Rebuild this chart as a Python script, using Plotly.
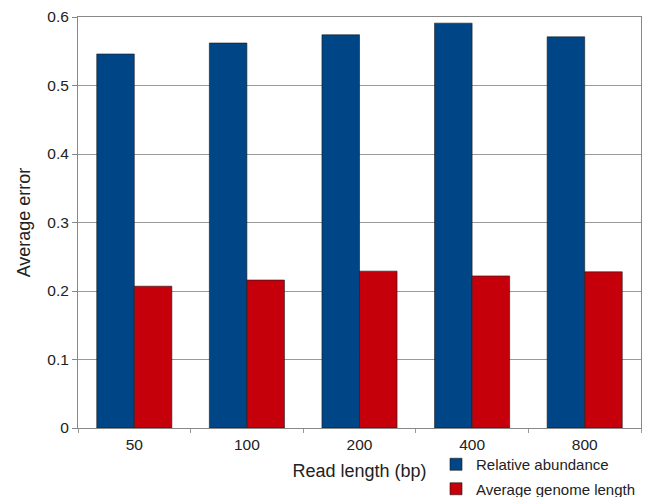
import plotly.graph_objects as go

categories = ["50", "100", "200", "400", "800"]
relative_abundance = [0.546, 0.562, 0.574, 0.591, 0.571]
average_genome_length = [0.207, 0.216, 0.229, 0.222, 0.228]
y_ticks = [0, 0.1, 0.2, 0.3, 0.4, 0.5, 0.6]
y_tick_labels = ["0", "0.1", "0.2", "0.3", "0.4", "0.5", "0.6"]

fig = go.Figure()
fig.add_trace(go.Bar(x=categories, y=relative_abundance, name="Relative abundance",
                     legendgroup="a",
                     marker=dict(color="#004586", line=dict(color="#1a1a1a", width=0.6))))
fig.add_trace(go.Bar(x=categories, y=average_genome_length, name="Average genome length",
                     legendgroup="b",
                     marker=dict(color="#c5000b", line=dict(color="#1a1a1a", width=0.6))))

# the page body adds an 8 px offset, so the figure is 8 px smaller than the window
W, H = 642, 489
font = "Liberation Sans, Arial, sans-serif"
fig.update_layout(
    width=W, height=H,
    margin=dict(l=70, r=9, t=9, b=69, autoexpand=False),
    paper_bgcolor="white", plot_bgcolor="white",
    barmode="group", bargap=0.333, bargroupgap=0,
    font=dict(family=font, size=15.5, color="#222222"),
    showlegend=True,
    legend=dict(xref="container", yref="container",
                x=428 / W, xanchor="left", y=1 - 440 / H, yanchor="top",
                font=dict(size=15, color="#222222"), itemwidth=30,
                tracegroupgap=2, bgcolor="rgba(0,0,0,0)"),
    xaxis=dict(
        title=dict(text="Read length (bp)", font=dict(size=18), standoff=12),
        automargin=False,
        ticks="outside", tickson="boundaries", ticklen=4, tickcolor="#999999",
        ticklabelstandoff=2,
        showline=True, linecolor="#888888", linewidth=1, mirror=True,
        tickfont=dict(size=15.5),
    ),
    yaxis=dict(
        title=dict(text="Average error", font=dict(size=18), standoff=12),
        automargin=False,
        range=[0, 0.6], tickvals=y_ticks, ticktext=y_tick_labels,
        ticks="outside", ticklen=5, tickcolor="#888888",
        showgrid=True, gridcolor="#9a9a9a", gridwidth=1,
        showline=True, linecolor="#888888", linewidth=1, mirror=True,
        zeroline=False, tickfont=dict(size=15.5),
    ),
)
fig.write_html("out.html")
